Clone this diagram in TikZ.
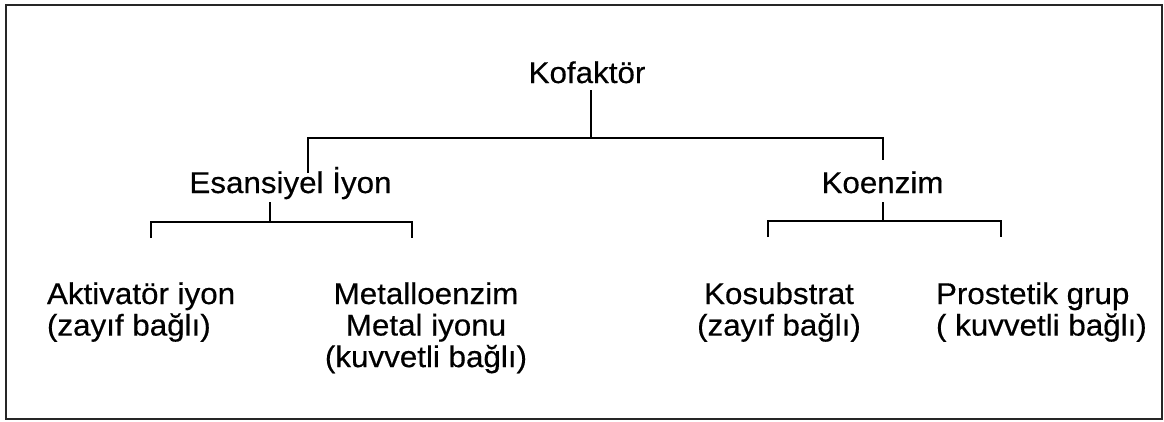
\documentclass[tikz,border=0pt]{standalone}
\usepackage{fontspec}
\usepackage{graphicx}
\setmainfont{Liberation Sans}
\newfontfamily\lblfont[RawFeature={embolden=0.4}]{Liberation Sans}
\newcommand{\hs}[1]{\scalebox{1.045}[1]{#1}}
\tikzset{
  lbl/.style={inner sep=0pt, outer sep=0pt, font=\lblfont\fontsize{30}{31.5}\selectfont},
  conn/.style={line width=1.4pt, black},
}
\begin{document}
\begin{tikzpicture}[x=1pt, y=-1pt]
\useasboundingbox (0,0) rectangle (1164,421);
\draw[line width=2pt, black!85] (6,5) rectangle (1162,419);

% nodes
\node[lbl, anchor=base] (kof) at (587,83) {\hs{Kofaktör}};
\node[lbl, anchor=base] (esi) at (290.5,193) {\hs{Esansiyel İyon}};
\node[lbl, anchor=base] (koe) at (882.5,193) {\hs{Koenzim}};
\node[lbl, anchor=base west] (akt) at (47,304)
  {\hs{\begin{tabular}[t]{@{}l@{}}Aktivatör iyon\\(zayıf bağlı)\end{tabular}}};
\node[lbl, anchor=base] (met) at (426,304)
  {\hs{\begin{tabular}[t]{@{}c@{}}Metalloenzim\\Metal iyonu\\(kuvvetli bağlı)\end{tabular}}};
\node[lbl, anchor=base] (kos) at (779,304)
  {\hs{\begin{tabular}[t]{@{}c@{}}Kosubstrat\\(zayıf bağlı)\end{tabular}}};
\node[lbl, anchor=base west] (pro) at (936,304)
  {\hs{\begin{tabular}[t]{@{}l@{}}Prostetik grup\\( kuvvetli bağlı)\end{tabular}}};

% junction coordinates
\coordinate (kofS) at (591,90);
\coordinate (kofJ) at (591,138);
\coordinate (esiN) at (308,173);
\coordinate (koeN) at (883,160);

\coordinate (esiS) at (270,202);
\coordinate (esiJ) at (270,222);
\coordinate (aktN) at (151,238);
\coordinate (metN) at (412,238);

\coordinate (koeS) at (883,202);
\coordinate (koeJ) at (883,221);
\coordinate (kosN) at (768,237);
\coordinate (proN) at (1001,237);

% connectors
\draw[conn] (kofS) -- (kofJ);
\draw[conn] (esiN) |- (kofJ) -| (koeN);

\draw[conn] (esiS) -- (esiJ);
\draw[conn] (aktN) |- (esiJ) -| (metN);

\draw[conn] (koeS) -- (koeJ);
\draw[conn] (kosN) |- (koeJ) -| (proN);
\end{tikzpicture}
\end{document}
